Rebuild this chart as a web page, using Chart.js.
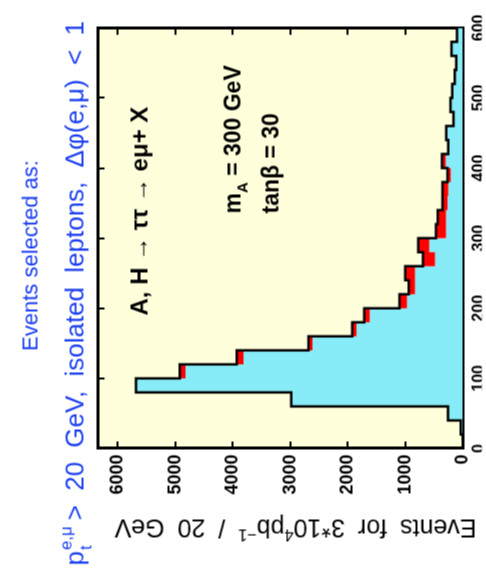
<!DOCTYPE html>
<html>
<head>
<meta charset="utf-8">
<script src="https://cdn.jsdelivr.net/npm/chart.js@4.4.1/dist/chart.umd.min.js"></script>
<style>
  html, body { margin: 0; padding: 0; background: #fff; overflow: hidden; }
  body { width: 486px; height: 569px; position: relative; }
  /* the plot is drawn upright and turned a quarter to the left, like the scan */
  #plot { position: absolute; left: -41.5px; top: 41.5px; width: 569px; height: 486px; transform: rotate(-90deg); }
</style>
</head>
<body>
<canvas id="plot" width="569" height="486"></canvas>
<script>
// lower edges of the 20 GeV bins
const pTBins = [0, 20, 40, 60, 80, 100, 120, 140, 160, 180, 200, 220, 240, 260, 280,
                300, 320, 340, 360, 380, 400, 420, 440, 460, 480, 500, 520, 540, 560, 580];
const binWidth = 20;

// total (black outline, red part on top)
const totalEvents = [0, 35, 255, 2980, 5680, 4920, 3930, 2680, 1920, 1710, 1100, 940, 1000, 690, 775,
                     465, 435, 350, 350, 265, 360, 250, 285, 160, 210, 180, 140, 110, 195, 100];
// cyan part
const cyanEvents = [0, 35, 255, 2980, 5680, 4820, 3810, 2610, 1845, 1615, 970, 830, 830, 480, 583,
                    291, 291, 263, 250, 206, 295, 250, 285, 160, 210, 180, 140, 110, 195, 100];

const xTickValues = [0, 100, 200, 300, 400, 500, 600];
const yTickValues = [0, 1000, 2000, 3000, 4000, 5000, 6000];

const FONT = "'Liberation Sans', Arial, Helvetica, sans-serif";
const BLUE = "#1d40f0";

function toSteps(values) {
    const pts = pTBins.map((x, i) => ({ x: x, y: values[i] }));
    const last = pTBins.length - 1;
    pts.push({ x: pTBins[last] + binWidth, y: values[last] });
    return pts;
}

function fixTicks(values) {
    return function (scale) {
        scale.ticks = values.map(v => ({ value: v }));
    };
}

const frame = { display: true, color: "#000", width: 3 };
const inTicks = { drawOnChartArea: false, drawTicks: true, tickLength: -7, color: "#000", lineWidth: 2 };

// text run with super/subscripts, returns end x
function drawRun(ctx, x, y, size, parts, weight) {
    const wt = weight ? weight + " " : "";
    parts.forEach(p => {
        const s = p.small ? size * 0.65 : size;
        ctx.font = wt + s + "px " + FONT;
        ctx.fillText(p.text, x, y + (p.dy || 0) * size);
        if (!p.stack) x += ctx.measureText(p.text).width;
    });
    return x;
}

const plotBackground = {
    id: "plotBackground",
    beforeDraw(chart) {
        const { ctx, chartArea: a } = chart;
        ctx.save();
        ctx.fillStyle = "#ffffdc";
        ctx.fillRect(a.left, a.top, a.right - a.left, a.bottom - a.top);
        ctx.restore();
    }
};

const texts = {
    id: "texts",
    afterDraw(chart) {
        const { ctx } = chart;
        ctx.save();
        ctx.textBaseline = "alphabetic";
        ctx.textAlign = "left";

        // ===== title, two lines =====
        ctx.fillStyle = BLUE;
        ctx.font = "22px " + FONT;
        const t1 = "Events selected as:";
        ctx.fillText(t1, 314 - ctx.measureText(t1).width / 2, 37);

        ctx.wordSpacing = "7px";
        let x = drawRun(ctx, 4, 83, 26, [{ text: "p" }]);
        drawRun(ctx, x + 1, 83, 26, [{ text: "e,\u03bc", small: true, dy: -0.45, stack: true }]);
        const xs = drawRun(ctx, x + 1, 83, 26, [{ text: "t", small: true, dy: 0.3 }]);
        ctx.font = (26 * 0.65) + "px " + FONT;
        x = Math.max(xs, x + 1 + ctx.measureText("e,\u03bc").width);
        drawRun(ctx, x + 6, 83, 26, [{ text: "> 20 GeV, isolated leptons, \u0394\u03c6(e,\u03bc) < 1" }]);

        // ===== y axis title (rotated) =====
        ctx.fillStyle = "#000";
        ctx.save();
        ctx.translate(50, 295);
        ctx.rotate(-Math.PI / 2);
        ctx.wordSpacing = "6px";
        const yParts = [
            { text: "Events for 3*10" }, { text: "4", small: true, dy: -0.4 },
            { text: "pb" }, { text: "\u22121", small: true, dy: -0.4 }, { text: " / 20 GeV" }
        ];
        let w = 0;
        yParts.forEach(p => {
            ctx.font = (p.small ? 25 * 0.65 : 25) + "px " + FONT;
            w += ctx.measureText(p.text).width;
        });
        drawRun(ctx, -w / 2, 0, 25, yParts);
        ctx.restore();

        // ===== labels inside the plot =====
        ctx.wordSpacing = "0px";
        ctx.fillStyle = "#000";
        drawRun(ctx, 254, 147, 24, [{ text: "A, H \u2192 \u03c4\u03c4 \u2192 e\u03bc+ X" }], "bold");
        drawRun(ctx, 356, 240, 23, [{ text: "m" }, { text: "A", small: true, dy: 0.3 }, { text: " = 300 GeV" }], "bold");
        drawRun(ctx, 356, 278, 23, [{ text: "tan\u03b2 = 30" }], "bold");
        ctx.restore();
    }
};

new Chart(document.getElementById("plot"), {
    type: "line",
    data: {
        datasets: [
            {
                label: "cyan",
                data: toSteps(cyanEvents),
                stepped: true,
                fill: "origin",
                backgroundColor: "#88ecf8",
                borderColor: "rgba(0,0,0,0)",
                borderWidth: 0,
                pointRadius: 0,
                order: 2
            },
            {
                label: "total",
                data: toSteps(totalEvents),
                stepped: true,
                fill: 0,
                backgroundColor: "#ff0000",
                borderColor: "#000",
                borderWidth: 2.5,
                pointRadius: 0,
                order: 1
            }
        ]
    },
    options: {
        responsive: false,
        devicePixelRatio: 1,
        animation: false,
        layout: { padding: 0, autoPadding: false },
        plugins: {
            legend: { display: false },
            tooltip: { enabled: false },
            title: { display: false }
        },
        scales: {
            x: {
                type: "linear", position: "bottom", min: 0, max: 600,
                afterBuildTicks: fixTicks(xTickValues),
                afterFit: s => { s.height = 19; },
                border: frame,
                grid: inTicks,
                ticks: {
                    color: "#000", font: { family: FONT, size: 16, weight: "bold" }, padding: 14,
                    maxRotation: 0, autoSkip: false, callback: v => String(v)
                }
            },
            xTop: {
                type: "linear", position: "top", min: 0, max: 600,
                afterBuildTicks: fixTicks(xTickValues),
                afterFit: s => { s.height = 97; },
                border: frame,
                grid: inTicks,
                ticks: { display: false }
            },
            y: {
                type: "linear", position: "left", min: 0, max: 6350,
                afterBuildTicks: fixTicks(yTickValues),
                afterFit: s => { s.width = 121; },
                border: frame,
                grid: inTicks,
                ticks: {
                    color: "#000", font: { family: FONT, size: 18, weight: "bold" }, padding: 13,
                    autoSkip: false, callback: v => String(v)
                }
            },
            yRight: {
                type: "linear", position: "right", min: 0, max: 6350,
                afterBuildTicks: fixTicks(yTickValues),
                afterFit: s => { s.width = 23; },
                border: frame,
                grid: inTicks,
                ticks: { display: false }
            }
        }
    },
    plugins: [plotBackground, texts]
});
</script>
</body>
</html>
